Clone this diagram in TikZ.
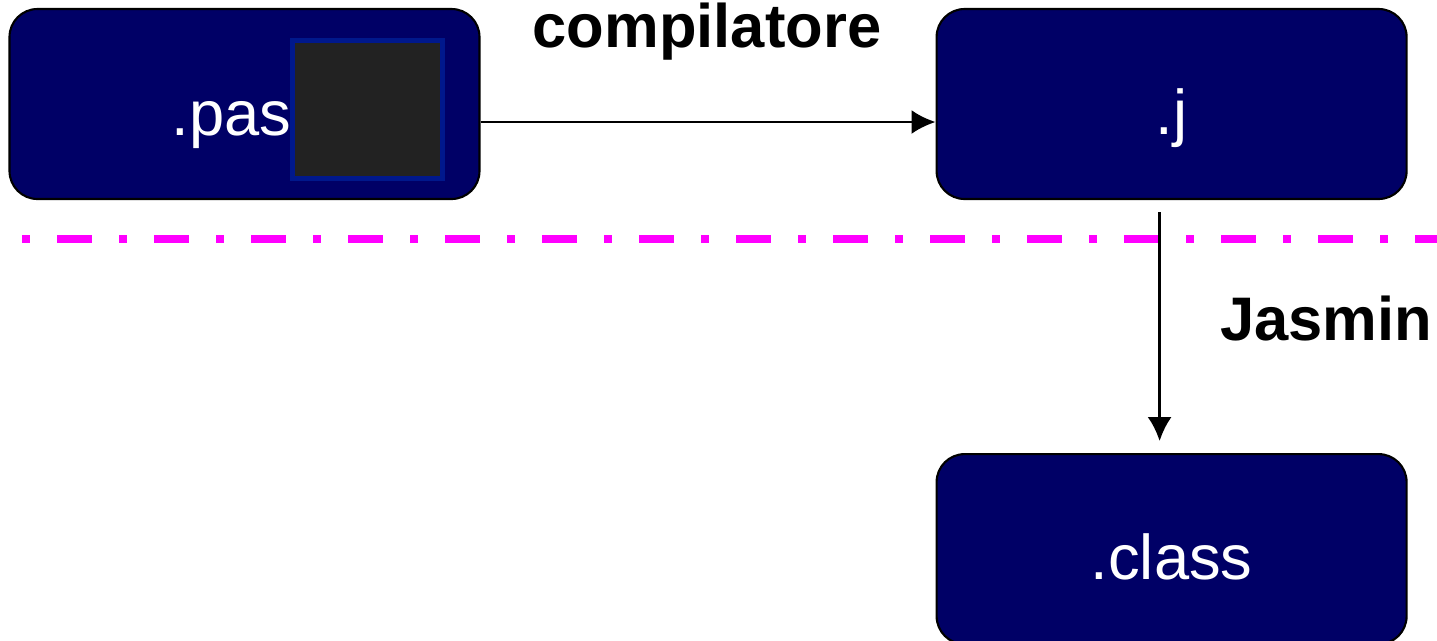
\documentclass[tikz,border=0pt]{standalone}
\usepackage{fontspec}
\setmainfont{Liberation Sans}
\usepackage{tikz}
\usetikzlibrary{positioning, arrows.meta}

\definecolor{navybox}{RGB}{0,0,102}
\definecolor{darkfill}{RGB}{34,34,34}
\definecolor{squareblue}{RGB}{0,24,140}
\definecolor{sepmagenta}{RGB}{255,0,255}

\begin{document}
\begin{tikzpicture}[auto, node distance=4.55cm,
  box node/.style={rectangle, rounded corners=0.28cm, draw=black, line width=0.6pt,
    fill=navybox, minimum width=4.70cm, minimum height=1.90cm, inner sep=0pt,
    text=white, font=\fontsize{18}{20}\selectfont, text height=0.60cm, text depth=0cm},
  label node/.style={font=\fontsize{17.5}{20}\selectfont\bfseries, inner sep=0pt, anchor=base},
  flow/.style={line width=0.8pt, -{Latex[length=0.24cm,width=0.24cm]}}]

\useasboundingbox (0,0) rectangle (14.37,-6.40);

\node[box node] (pas) at (2.445,-1.04) {};
\node[box node] (j) [right=4.55cm of pas] {.j};
\node[box node] (class) [below=2.53cm of j] {.class};

% text and hidden part inside the first box
\node[anchor=base east, inner sep=0pt, text=white, font=\fontsize{18}{20}\selectfont] (pastext) at (2.92,-1.35) {.pas};
\node[draw=squareblue, fill=darkfill, line width=0.05cm, minimum width=1.50cm,
  minimum height=1.38cm, inner sep=0pt] (square) at (3.675,-1.095) {};

\node[label node] (comp) at (7.07,-0.47) {compilatore};
\node[label node] (jasmin) at (13.26,-3.40) {Jasmin};

% separator
\coordinate (sepleft) at (0.22,-2.39);
\coordinate (sepright) at (14.37,-2.39);
\draw[sepmagenta, line width=0.08cm, dash pattern=on 0.08cm off 0.27cm on 0.35cm off 0.27cm]
  (sepleft) -- (sepright);

\draw[flow] ([yshift=-0.18cm]pas.east) -- ([yshift=-0.18cm]j.west);
\draw[flow, shorten <=0.12cm, shorten >=0.12cm] ([xshift=-0.12cm]j.south) -- ([xshift=-0.12cm]class.north);

\end{tikzpicture}
\end{document}
